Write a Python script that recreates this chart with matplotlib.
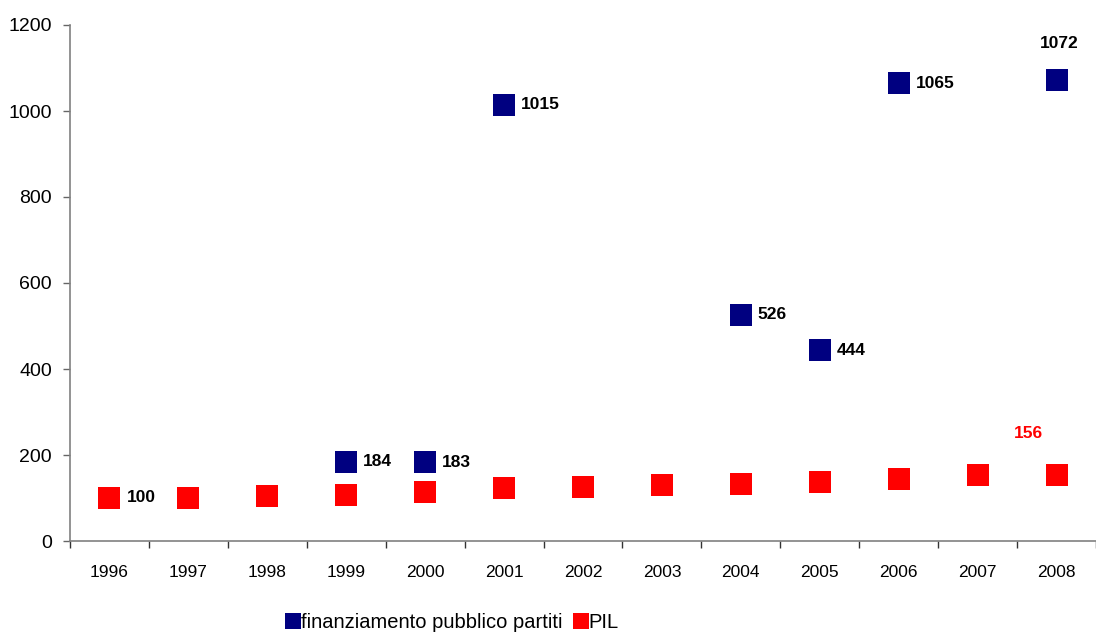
import numpy as np
import matplotlib
matplotlib.use("Agg")
import matplotlib.pyplot as plt
from matplotlib.ticker import FixedLocator

plt.rcParams['font.family'] = ['Liberation Sans', 'DejaVu Sans']

years = [1996, 1997, 1998, 1999, 2000, 2001, 2002, 2003, 2004, 2005, 2006, 2007, 2008]
finanziamento = [100, np.nan, np.nan, 184, 183, 1015, np.nan, np.nan, 526, 444, 1065, np.nan, 1072]
pil = [100, 101, 105, 108, 115, 124, 126, 131, 133, 138, 145, 153, 154]
pil_label = 156
series_names = ["finanziamento pubblico partiti", "PIL"]
yticks = [0, 200, 400, 600, 800, 1000, 1200]

blue = "#000080"
red = "#FF0000"

fig = plt.figure(figsize=(10.96, 6.34), dpi=100)
ax = fig.add_axes([70 / 1096, 1 - 541 / 634, 1 - 70 / 1096, (541 - 25) / 634])

x = np.array(years, dtype=float)
ax.plot(x, finanziamento, linestyle='none', marker='s', markersize=15.3,
        markeredgewidth=0, color=blue, label=series_names[0], zorder=3)
ax.plot(x, pil, linestyle='none', marker='s', markersize=15.3,
        markeredgewidth=0, color=red, label=series_names[1], zorder=4)

# data labels
for xi, v in zip(x, finanziamento):
    if np.isnan(v):
        continue
    if xi == 2008:
        ax.annotate(f"{int(v)}", (xi, v), xytext=(3, 37), textcoords='offset pixels',
                    ha='center', va='center', fontsize=12.5, fontweight='bold', color='black', zorder=5)
    else:
        ax.annotate(f"{int(v)}", (xi, v), xytext=(17, 0), textcoords='offset pixels',
                    ha='left', va='center', fontsize=12.5, fontweight='bold', color='black', zorder=5)

ax.annotate(f"{pil_label}", (x[-1], pil[-1]), xytext=(-28, 41), textcoords='offset pixels',
            ha='center', va='center', fontsize=12.5, fontweight='bold', color=red, zorder=5)

ax.set_xlim(1995.5, 2008.5)
ax.set_ylim(0, 1200)
ax.set_yticks(yticks)
ax.set_xticks(years)
ax.set_xticklabels([str(y) for y in years])
ax.xaxis.set_minor_locator(FixedLocator(np.arange(1995.5, 2009.0, 1.0)))

ax.tick_params(axis='x', which='major', length=0, pad=17, labelsize=12.5, colors='black')
ax.tick_params(axis='x', which='minor', length=5, width=1, color='#333333', direction='out')
ax.tick_params(axis='y', which='major', length=5, width=1, color='#666666', direction='out',
               pad=8, labelsize=14, labelcolor='black')

for s in ['top', 'right']:
    ax.spines[s].set_visible(False)
ax.spines['left'].set_color('#808080')
ax.spines['bottom'].set_color('#808080')
ax.spines['left'].set_linewidth(1.2)
ax.spines['bottom'].set_linewidth(1.2)

fig.legend(loc='center', bbox_to_anchor=(0.413, 1 - 623 / 634), ncol=2, frameon=False,
           fontsize=14.5, handlelength=0.65, handletextpad=0.05, columnspacing=0.6,
           markerscale=0.72, borderaxespad=0, borderpad=0)

fig.savefig("out.png", dpi=100)
